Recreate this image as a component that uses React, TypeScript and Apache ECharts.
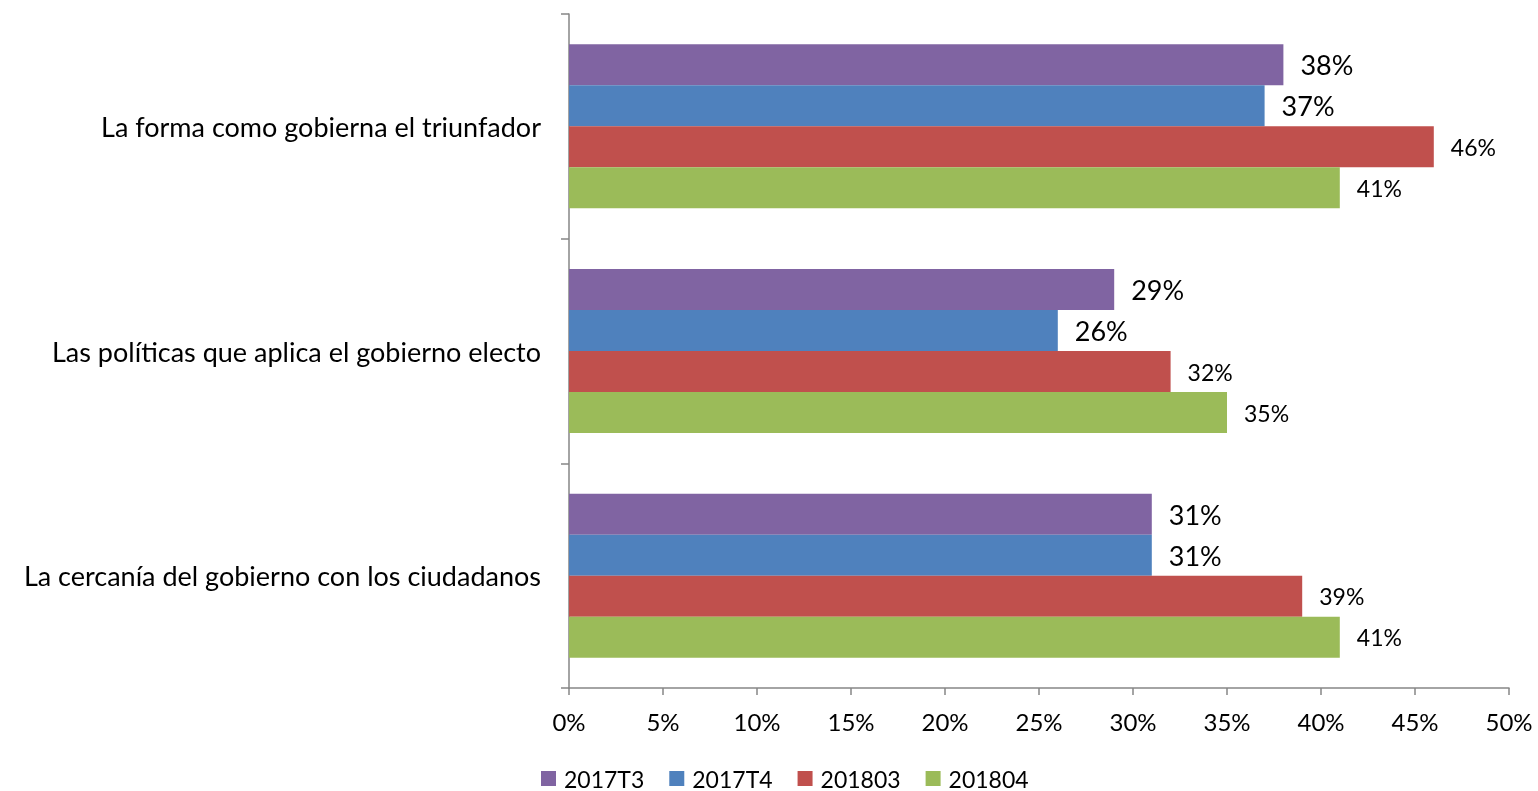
import React, { useEffect, useRef } from "react";
import * as echarts from "echarts";

const categories = [
  "La forma como gobierna el triunfador",
  "Las políticas que aplica el gobierno electo",
  "La cercanía del gobierno con los ciudadanos",
];
const seriesNames = ["2017T3", "2017T4", "201803", "201804"];
const s2017T3 = [38, 29, 31];
const s2017T4 = [37, 26, 31];
const s201803 = [46, 32, 39];
const s201804 = [41, 35, 41];
const xTicks = [0, 5, 10, 15, 20, 25, 30, 35, 40, 45, 50];

const colors = ["#8064A2", "#4F81BD", "#C0504D", "#9BBB59"];
const labelSizes = [27, 27, 23, 23];
const FONT = "Lato";

export default function App() {
  const ref = useRef<HTMLDivElement>(null);
  useEffect(() => {
    if (!ref.current) return;
    const chart = echarts.init(ref.current, undefined, { renderer: "svg" });
    const data = [s2017T3, s2017T4, s201803, s201804];
    chart.setOption({
      animation: false,
      textStyle: { fontFamily: FONT },
      legend: {
        left: 541,
        top: 767,
        padding: 0,
        itemWidth: 15,
        itemHeight: 15,
        itemGap: 25,
        icon: "rect",
        textStyle: {
          fontSize: 23,
          lineHeight: 23,
          color: "#000",
          fontFamily: FONT,
          padding: [0, 0, 0, 3],
        },
        data: seriesNames,
      },
      grid: { left: 569, right: 29, top: 14, bottom: 103, containLabel: false },
      xAxis: {
        type: "value",
        min: xTicks[0],
        max: xTicks[xTicks.length - 1],
        interval: 5,
        axisLine: { show: true, lineStyle: { color: "#868686", width: 1.5 } },
        axisTick: { show: true, length: 7, lineStyle: { color: "#868686", width: 1.5 } },
        splitLine: { show: false },
        axisLabel: {
          formatter: (v: number) => v + "%",
          fontSize: 24,
          color: "#000",
          margin: 21,
          fontFamily: FONT,
        },
      },
      yAxis: {
        type: "category",
        inverse: true,
        data: categories,
        axisLine: { show: true, lineStyle: { color: "#868686", width: 1.5 } },
        axisTick: { show: true, length: 8, lineStyle: { color: "#868686", width: 1.5 } },
        axisLabel: { fontSize: 27, color: "#000", margin: 28, fontFamily: FONT },
      },
      series: seriesNames.map((name, i) => ({
        name,
        type: "bar",
        data: data[i],
        barGap: "0%",
        barCategoryGap: "27%",
        itemStyle: { color: colors[i] },
        label: {
          show: true,
          position: "right",
          distance: 17,
          formatter: (p: any) => p.value + "%",
          fontSize: labelSizes[i],
          color: "#000",
          fontFamily: FONT,
        },
      })),
    });
    return () => chart.dispose();
  }, []);
  return (
    <div
      ref={ref}
      style={{ position: "fixed", left: 0, top: 0, width: 1538, height: 791 }}
    />
  );
}
